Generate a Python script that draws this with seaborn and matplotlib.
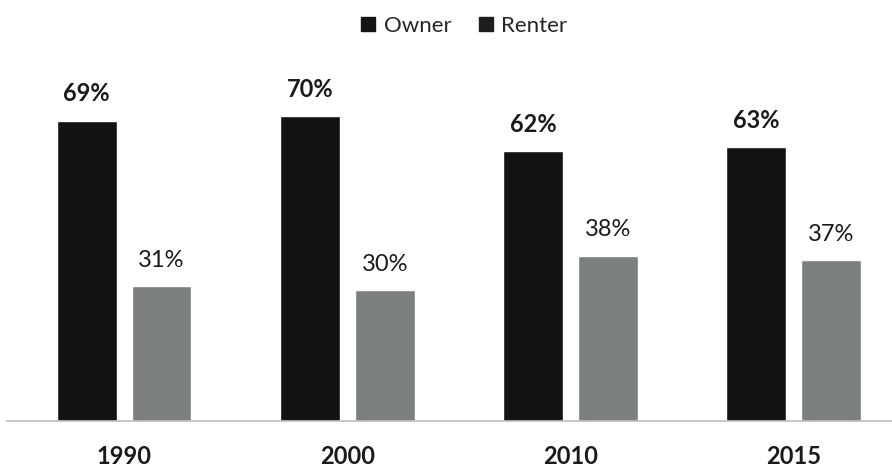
import matplotlib
matplotlib.use("Agg")
import matplotlib.pyplot as plt
from matplotlib.lines import Line2D
import seaborn as sns
import pandas as pd

years = ["1990", "2000", "2010", "2015"]
owner = [69, 70, 62, 63]
renter = [31, 30, 38, 37]
series = ["Owner", "Renter"]

df = pd.DataFrame({
    "year": years * 2,
    "tenure": ["Owner"] * len(years) + ["Renter"] * len(years),
    "share": owner + renter,
})

sns.set_theme(style="white")
plt.rcParams["font.family"] = ["Lato", "DejaVu Sans"]

colors = {"Owner": "#131313", "Renter": "#7b807d"}
legend_colors = {"Owner": "#151515", "Renter": "#1e1e1e"}

fig = plt.figure(figsize=(8.92, 4.70), dpi=100)
ax = fig.add_axes([7 / 892, 49 / 470, 885 / 892, 346 / 470])

sns.barplot(data=df, x="year", y="share", hue="tenure", order=years,
            hue_order=series, palette=colors, width=0.67, gap=0.2,
            saturation=1, legend=False, ax=ax)

ax.set_xlim(-0.525, 3.44)
ax.set_ylim(0, 79.5)
ax.set_xlabel("")
ax.set_ylabel("")
ax.set_yticks([])
for side in ["top", "left", "right"]:
    ax.spines[side].set_visible(False)
ax.spines["bottom"].set_color("#bdbdbd")
ax.spines["bottom"].set_linewidth(1.2)
ax.tick_params(axis="x", length=0, pad=17)
for lab in ax.get_xticklabels():
    lab.set_fontsize(17)
    lab.set_fontweight("bold")
    lab.set_color("#1a1a1a")

for container, name in zip(ax.containers, series):
    weight = "bold" if name == "Owner" else "normal"
    ax.bar_label(container, labels=[f"{v:.0f}%" for v in container.datavalues],
                 padding=11, fontsize=17, fontweight=weight, color="#1a1a1a")

handles = [Line2D([], [], marker="s", linestyle="none", markersize=9.5,
                  color=legend_colors[name]) for name in series]
fig.legend(handles, series, loc="upper center", bbox_to_anchor=(0.52, 1.0),
           ncol=2, frameon=False, fontsize=16, handlelength=0.7,
           handletextpad=0.35, columnspacing=1.2, borderaxespad=0.3)

fig.savefig("out.png", dpi=100, facecolor="white")
